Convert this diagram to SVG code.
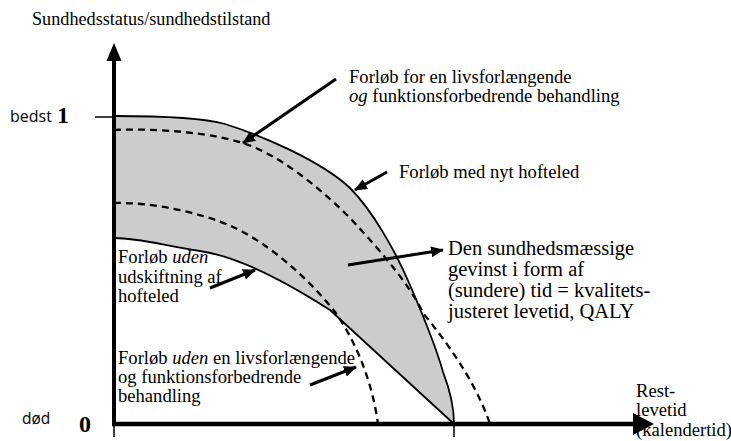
<svg xmlns="http://www.w3.org/2000/svg" width="731" height="441" viewBox="0 0 731 441">
<style>
.t{font-family:"Liberation Serif","Times New Roman",serif;font-size:18.6px;fill:#000}
.g{font-size:20.5px}
.s{font-family:"Open Sans","Liberation Sans",sans-serif;font-size:15.5px;fill:#000}
.b{font-family:"Liberation Serif","Times New Roman",serif;font-size:24px;font-weight:bold;fill:#000}
.solid{fill:none;stroke:#000;stroke-width:1.8}
.dash{fill:none;stroke:#000;stroke-width:2.3;stroke-dasharray:7 5}
.arr{fill:none;stroke:#000;stroke-width:3;marker-end:url(#ah)}
.thin{stroke:#000;stroke-width:1.5}
</style>
<defs>
<marker id="ah" markerUnits="userSpaceOnUse" markerWidth="13" markerHeight="11" refX="12" refY="5.5" orient="auto">
<path d="M0,0 L13,5.5 L0,11 Z" fill="#000"/>
</marker>
</defs>
<rect width="731" height="441" fill="#fff"/>

<g id="region">
<path d="M114,116 C150,116 200,117 225,124 C260,135 320,160 350,188 C372,210 395,250 410,285 C425,320 437,350 443,372 C450,390 454,405 454,424 L330,310 C280,278 235,256 200,251 C165,246 140,238 114,238 Z" fill="#cccccc"/>
</g>

<g id="curve-nyt-hofteled">
<path class="solid" d="M114,116 C150,116 200,117 225,124 C260,135 320,160 350,188 C372,210 395,250 410,285 C425,320 437,350 443,372 C450,390 454,405 454,424"/>
</g>
<g id="curve-uden-udskiftning">
<path class="solid" d="M114,238 C140,238 165,246 200,251 C235,256 280,278 330,310 L454,424"/>
</g>
<g id="curve-livsforlaengende">
<path class="dash" d="M114,130 C160,128 210,133 243,143 C280,155 320,188 350,218 C380,250 410,285 423,313 C445,340 475,380 490,424"/>
</g>
<g id="curve-uden-behandling">
<path class="dash" d="M114,203 C150,202 200,212 233,227 C270,244 310,280 335,312 C355,340 372,380 378,424"/>
</g>

<g id="axes">
<line x1="114" y1="60" x2="114" y2="424" stroke="#000" stroke-width="4"/>
<path d="M114,43 L121.5,61 L106.5,61 Z" fill="#000"/>
<line x1="112" y1="424" x2="636" y2="424" stroke="#000" stroke-width="4.5"/>
<path d="M654,424 L633,413 L633,435 Z" fill="#000"/>
<line class="thin" x1="95" y1="117" x2="114" y2="117"/>
<line class="thin" x1="114" y1="424" x2="114" y2="437"/>
<line class="thin" x1="454" y1="424" x2="454" y2="437"/>
</g>

<g id="connectors">
<line class="arr" x1="336" y1="79" x2="243" y2="143"/>
<line class="arr" x1="387" y1="172" x2="355" y2="190"/>
<line class="arr" x1="348" y1="265" x2="443" y2="250"/>
<line class="arr" x1="210" y1="288" x2="255" y2="270"/>
<line class="arr" x1="310" y1="385" x2="356" y2="367"/>
</g>

<g id="label-yaxis"><text class="t" x="32" y="25" style="font-size:18.2px">Sundhedsstatus/sundhedstilstand</text></g>
<g id="label-bedst"><text class="s" x="10" y="122" style="font-size:16px">bedst</text><text class="b" x="57" y="123">1</text></g>
<g id="label-dod"><text class="s" x="22" y="424">død</text><text class="b" x="79" y="432">0</text></g>
<g id="label-forlob-for">
<text class="t" x="349" y="83">Forløb for en livsforlængende</text>
<text class="t" x="349" y="102"><tspan font-style="italic">og</tspan> funktionsforbedrende behandling</text>
</g>
<g id="label-nyt"><text class="t" x="399" y="178">Forløb med nyt hofteled</text></g>
<g id="label-gevinst">
<text class="t g" x="448" y="255">Den sundhedsmæssige</text>
<text class="t g" x="448" y="276">gevinst i form af</text>
<text class="t g" x="448" y="297">(sundere) tid = kvalitets-</text>
<text class="t g" x="448" y="318">justeret levetid, QALY</text>
</g>
<g id="label-uden-udskiftning">
<text class="t" x="118" y="263">Forløb <tspan font-style="italic">uden</tspan></text>
<text class="t" x="118" y="283">udskiftning af</text>
<text class="t" x="118" y="302">hofteled</text>
</g>
<g id="label-uden-behandling">
<text class="t" x="118" y="364">Forløb <tspan font-style="italic">uden</tspan> en livsforlængende</text>
<text class="t" x="118" y="383">og funktionsforbedrende</text>
<text class="t" x="118" y="402">behandling</text>
</g>
<g id="label-xaxis">
<text class="t" x="636" y="397">Rest-</text>
<text class="t" x="636" y="416">levetid</text>
<text class="t" x="636" y="436">(kalendertid)</text>
</g>
</svg>
